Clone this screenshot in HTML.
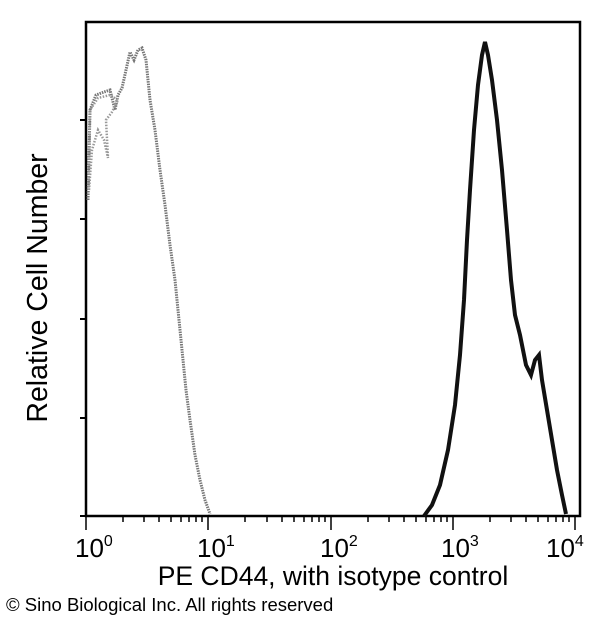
<!DOCTYPE html>
<html><head><style>
body{margin:0;background:#fff;width:600px;height:620px;overflow:hidden}
svg{display:block}
text{font-family:"Liberation Sans",Arial,sans-serif;fill:#000}
</style></head><body>
<svg width="600" height="620" viewBox="0 0 600 620">
<rect x="86" y="22" width="494" height="494" fill="none" stroke="#000" stroke-width="2.5"/>
<g stroke="#000" stroke-width="2">
<line x1="80" y1="120" x2="86" y2="120"/><line x1="80" y1="219" x2="86" y2="219"/>
<line x1="80" y1="319" x2="86" y2="319"/><line x1="80" y1="418" x2="86" y2="418"/>
<line x1="80" y1="516" x2="86" y2="516"/>
</g>
<g stroke="#000" stroke-width="1.5">
<line x1="86" y1="516" x2="86" y2="530"/><line x1="208" y1="516" x2="208" y2="530"/>
<line x1="331" y1="516" x2="331" y2="530"/><line x1="453" y1="516" x2="453" y2="530"/>
<line x1="575" y1="516" x2="575" y2="530"/>
<line x1="123" y1="516" x2="123" y2="522"/><line x1="144" y1="516" x2="144" y2="522"/><line x1="159" y1="516" x2="159" y2="522"/><line x1="171" y1="516" x2="171" y2="522"/><line x1="181" y1="516" x2="181" y2="522"/><line x1="189" y1="516" x2="189" y2="522"/><line x1="196" y1="516" x2="196" y2="522"/><line x1="202" y1="516" x2="202" y2="522"/>
<line x1="245" y1="516" x2="245" y2="522"/><line x1="267" y1="516" x2="267" y2="522"/><line x1="282" y1="516" x2="282" y2="522"/><line x1="294" y1="516" x2="294" y2="522"/><line x1="304" y1="516" x2="304" y2="522"/><line x1="312" y1="516" x2="312" y2="522"/><line x1="319" y1="516" x2="319" y2="522"/><line x1="325" y1="516" x2="325" y2="522"/>
<line x1="368" y1="516" x2="368" y2="522"/><line x1="389" y1="516" x2="389" y2="522"/><line x1="404" y1="516" x2="404" y2="522"/><line x1="416" y1="516" x2="416" y2="522"/><line x1="426" y1="516" x2="426" y2="522"/><line x1="434" y1="516" x2="434" y2="522"/><line x1="441" y1="516" x2="441" y2="522"/><line x1="447" y1="516" x2="447" y2="522"/>
<line x1="490" y1="516" x2="490" y2="522"/><line x1="511" y1="516" x2="511" y2="522"/><line x1="526" y1="516" x2="526" y2="522"/><line x1="538" y1="516" x2="538" y2="522"/><line x1="548" y1="516" x2="548" y2="522"/><line x1="556" y1="516" x2="556" y2="522"/><line x1="563" y1="516" x2="563" y2="522"/><line x1="569" y1="516" x2="569" y2="522"/>
</g>
<path d="M88,200 L90,110 L96,95 L104,92 L110,90 L115,110 L118,95 L122,88 L126,70 L130,52 L134,60 L138,50 L142,48 L146,60 L148,80 L150,100 L155,130 L160,170 L165,205 L170,245 L175,280 L178,310 L182,350 L186,390 L190,420 L195,455 L200,480 L205,500 L210,514"
 fill="none" stroke="#777" stroke-width="3" stroke-dasharray="1.5 1"/>
<path d="M89,190 L92,150 L98,130 L104,140 L108,158 L106,120 L112,112 L118,100 L110,95 L98,98 L90,110 Z" fill="none" stroke="#999" stroke-width="2.5" stroke-dasharray="1.5 1.5"/>
<path d="M424,516 L432,505 L440,485 L448,450 L455,405 L460,355 L464,300 L467,240 L470,190 L474,130 L478,85 L482,55 L485,42 L488,55 L492,80 L497,120 L502,170 L507,230 L511,280 L515,315 L520,335 L526,365 L531,375 L535,360 L539,355 L542,380 L547,410 L552,440 L557,470 L562,495 L566,514"
 fill="none" stroke="#111" stroke-width="4"/>
<g font-size="26">
<text x="75" y="557">10<tspan font-size="16" dy="-11">0</tspan></text>
<text x="197" y="557">10<tspan font-size="16" dy="-11">1</tspan></text>
<text x="320" y="557">10<tspan font-size="16" dy="-11">2</tspan></text>
<text x="441" y="557">10<tspan font-size="16" dy="-11">3</tspan></text>
<text x="546" y="557">10<tspan font-size="16" dy="-11">4</tspan></text>
</g>
<text x="333" y="585" font-size="26.5" text-anchor="middle">PE CD44, with isotype control</text>
<text x="47" y="288" font-size="28.5" text-anchor="middle" transform="rotate(-90 47 288)">Relative Cell Number</text>
<text x="6" y="611" font-size="18.5">© Sino Biological Inc. All rights reserved</text>
</svg>
</body></html>
